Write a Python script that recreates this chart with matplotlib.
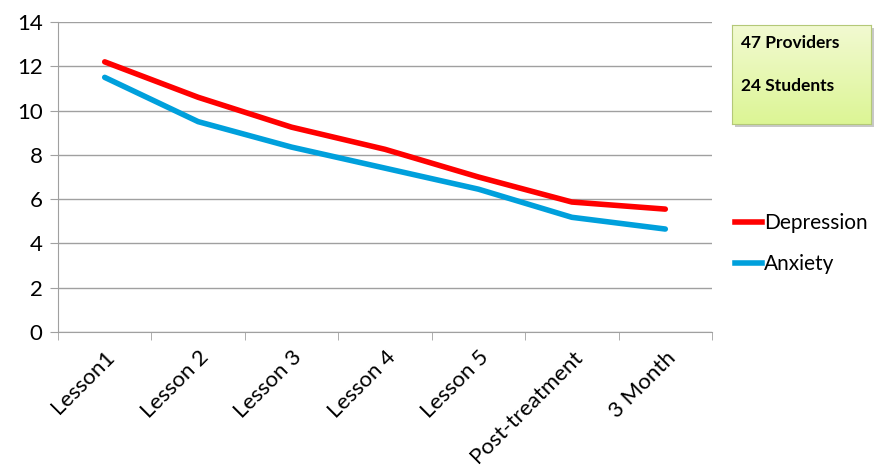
import matplotlib
matplotlib.use("Agg")
import matplotlib.pyplot as plt
import numpy as np
from matplotlib.lines import Line2D
from matplotlib.patches import Rectangle

categories = ["Lesson1", "Lesson 2", "Lesson 3", "Lesson 4", "Lesson 5", "Post-treatment", "3 Month"]
depression = [12.2, 10.6, 9.25, 8.25, 7.0, 5.87, 5.55]
anxiety = [11.5, 9.5, 8.35, 7.4, 6.45, 5.18, 4.65]
yticks = [0, 2, 4, 6, 8, 10, 12, 14]
note_lines = ["47 Providers", "24 Students"]

plt.rcParams['font.family'] = ['Lato', 'DejaVu Sans']

W, H = 877, 468
fig = plt.figure(figsize=(W / 100, H / 100), dpi=100)
ax = fig.add_axes([58 / W, 1 - 332 / H, (712 - 58) / W, (332 - 22) / H])

x = np.arange(len(categories))
ax.plot(x, depression, color="#ff0000", lw=4, solid_capstyle="round", solid_joinstyle="round", zorder=3)
ax.plot(x, anxiety, color="#00a0dc", lw=4, solid_capstyle="round", solid_joinstyle="round", zorder=3)

ax.set_xlim(-0.5, len(categories) - 0.5)
ax.set_ylim(0, 14)
ax.set_yticks(yticks)
ax.set_yticklabels([str(v) for v in yticks], fontsize=16)
ax.yaxis.grid(True, color="#a0a0a0", lw=1)
ax.set_axisbelow(True)
for s in ["top", "right"]:
    ax.spines[s].set_visible(False)
ax.spines["left"].set_color("#a0a0a0")
ax.spines["bottom"].set_color("#a0a0a0")
ax.tick_params(axis="y", length=6, color="#a0a0a0", pad=5)

ax.set_xticks(x)
ax.set_xticklabels(categories, rotation=45, ha="right", rotation_mode="anchor", fontsize=16)
ax.tick_params(axis="x", length=0, pad=11)
ax.set_xticks(np.arange(-0.5, len(categories)), minor=True)
ax.tick_params(axis="x", which="minor", length=6, color="#a0a0a0")

# note box with gradient
bx0, by0, bx1, by1 = 732, 25, 871, 124
shadow = Rectangle((bx0 + 3, H - by1 - 3), bx1 - bx0, by1 - by0, transform=None,
                   facecolor="#c8c8c8", edgecolor="none", zorder=-1)
fig.patches.append(shadow)
bax = fig.add_axes([bx0 / W, 1 - by1 / H, (bx1 - bx0) / W, (by1 - by0) / H])
bax.set_zorder(2)
grad = np.linspace(0, 1, 100).reshape(-1, 1)
c_top = np.array([0xf2, 0xfa, 0xd2]) / 255
c_bot = np.array([0xdc, 0xf5, 0x95]) / 255
img = c_top[None, None, :] * (1 - grad[:, :, None]) + c_bot[None, None, :] * grad[:, :, None]
bax.imshow(img, aspect="auto", extent=[0, 1, 0, 1], origin="upper")
bax.set_xticks([])
bax.set_yticks([])
for s in bax.spines.values():
    s.set_color("#b4c878")
bax.text(9 / (bx1 - bx0), 0.82, note_lines[0], fontsize=12.5, fontweight="bold", va="center", ha="left", transform=bax.transAxes)
bax.text(9 / (bx1 - bx0), 0.38, note_lines[1], fontsize=12.5, fontweight="bold", va="center", ha="left", transform=bax.transAxes)

handles = [Line2D([], [], color="#ff0000", lw=4), Line2D([], [], color="#00a0dc", lw=4)]
fig.legend(handles, ["Depression", "Anxiety"], loc="upper left",
           bbox_to_anchor=(735 / W, 1 - 213 / H), frameon=False, fontsize=15,
           borderpad=0, borderaxespad=0,
           handlelength=1.3, handletextpad=0.1, labelspacing=1.0)

fig.savefig("out.png", dpi=100)
